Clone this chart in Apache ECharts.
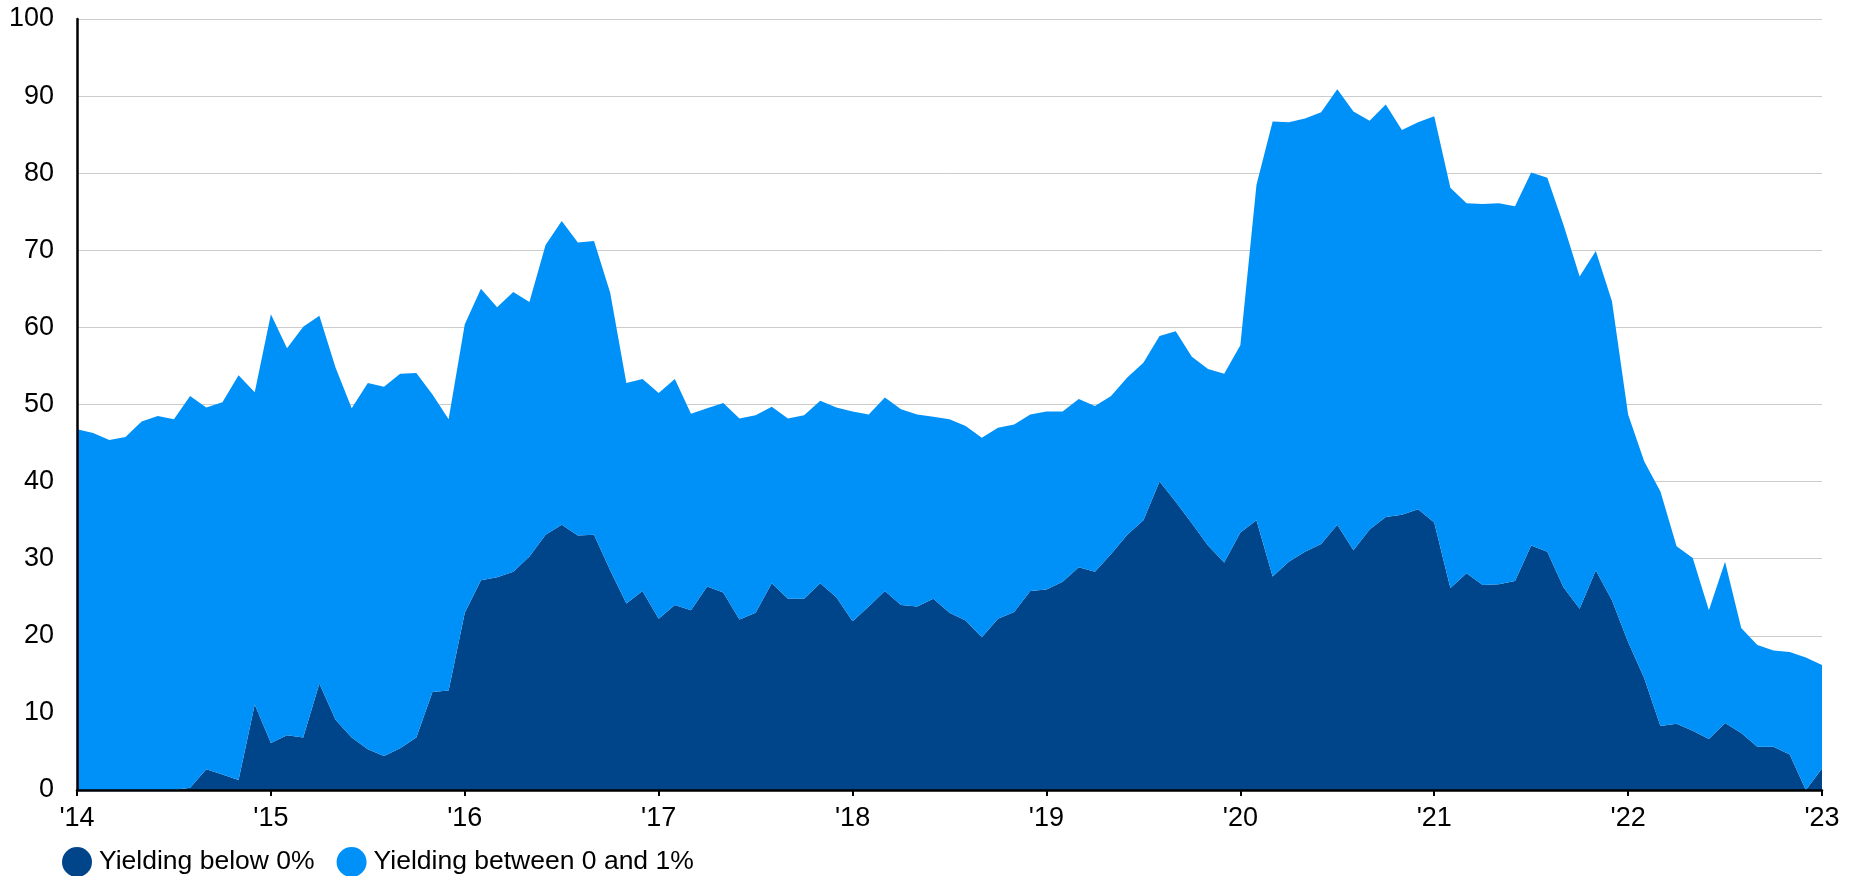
<!DOCTYPE html>
<html lang="en">
<head>
    <meta charset="UTF-8">
    <title>Bonds yielding below 1%</title>
    <style type="text/css">
        html, body { margin: 0; padding: 0; background: #fff; }
        #chart { width: 1852px; height: 876px; }
    </style>
</head>
<body>
<div id="chart"></div>
<script type="text/javascript" src="https://cdn.jsdelivr.net/npm/echarts@6/dist/echarts.min.js"></script>
<script type="text/javascript">
    // monthly, Jan 2014 .. Jan 2023
    var startYear = 2014;
    var yearLabels = ["'14", "'15", "'16", "'17", "'18", "'19", "'20", "'21", "'22", "'23"];

    // share yielding below 0%
    var belowZero = [
        0, 0, 0, 0, 0, 0, 0, 0.3, 2.7, 2.0, 1.3, 11.1,
        6.1, 7.1, 6.8, 13.8, 9.1, 6.8, 5.3, 4.4, 5.4, 6.8, 12.7, 12.9,
        23.0, 27.2, 27.6, 28.3, 30.3, 33.1, 34.4, 33.0, 33.1, 28.5, 24.2, 25.8,
        22.2, 24.0, 23.3, 26.4, 25.6, 22.1, 23.0, 26.8, 24.8, 24.8, 26.8, 25.0,
        21.9, 23.8, 25.8, 24.0, 23.8, 24.8, 23.0, 22.0, 19.8, 22.2, 23.1, 25.8,
        26.0, 27.0, 28.9, 28.3, 30.6, 33.1, 35.0, 40.0, 37.4, 34.6, 31.7, 29.5,
        33.4, 35.0, 27.7, 29.6, 30.9, 31.9, 34.4, 31.1, 33.8, 35.4, 35.7, 36.4,
        34.7, 26.2, 28.1, 26.6, 26.7, 27.1, 31.7, 30.9, 26.3, 23.5, 28.5, 24.6,
        19.2, 14.5, 8.3, 8.6, 7.7, 6.6, 8.7, 7.4, 5.6, 5.6, 4.6, 0,
        2.8
    ];

    // share yielding below 1% (top of the stack)
    var belowOne = [
        46.8, 46.3, 45.4, 45.8, 47.8, 48.5, 48.1, 51.1, 49.6, 50.3, 53.8, 51.6,
        61.7, 57.3, 60.1, 61.5, 54.8, 49.5, 52.8, 52.3, 54.0, 54.1, 51.3, 48.1,
        60.4, 65.0, 62.6, 64.6, 63.3, 70.7, 73.8, 71.0, 71.2, 64.5, 52.8, 53.3,
        51.5, 53.3, 48.8, 49.5, 50.2, 48.2, 48.6, 49.7, 48.2, 48.6, 50.5, 49.6,
        49.1, 48.7, 50.9, 49.4, 48.7, 48.4, 48.1, 47.2, 45.7, 47.0, 47.4, 48.7,
        49.1, 49.1, 50.7, 49.8, 51.1, 53.5, 55.4, 58.9, 59.5, 56.2, 54.6, 54.0,
        57.7, 78.5, 86.7, 86.6, 87.1, 87.9, 90.9, 88.0, 86.8, 88.9, 85.6, 86.6,
        87.4, 78.1, 76.1, 76.0, 76.1, 75.7, 80.1, 79.4, 73.3, 66.6, 69.9, 63.4,
        48.7, 42.6, 38.7, 31.6, 30.1, 23.3, 29.6, 21.0, 18.8, 18.1, 17.9, 17.2,
        16.2
    ];

    var months = [];
    for (var i = 0; i < belowOne.length; i++) {
        var y = startYear + Math.floor(i / 12);
        var m = (i % 12) + 1;
        months.push(y + '-' + (m < 10 ? '0' + m : m));
    }
    var between = belowOne.map(function (v, i) {
        return Math.round((v - belowZero[i]) * 10) / 10;
    });

    var font = "'Liberation Sans', Arial, sans-serif";
    var dark = '#00458a';
    var light = '#0091f8';

    var chart = echarts.init(document.getElementById('chart'));
    chart.setOption({
        animation: false,
        textStyle: { fontFamily: font },
        grid: { left: 77, right: 30, top: 19, bottom: 86 },
        legend: {
            left: 57,
            top: 842,
            icon: 'circle',
            itemWidth: 30,
            itemHeight: 30,
            itemGap: 22,
            textStyle: { fontSize: 26.5, color: '#000', fontFamily: font, padding: [0, 0, 0, 2] },
            data: ['Yielding below 0%', 'Yielding between 0 and 1%']
        },
        xAxis: {
            type: 'category',
            boundaryGap: false,
            data: months,
            z: 5,
            axisLine: { show: true, lineStyle: { color: '#000', width: 2.5 } },
            axisTick: {
                show: true,
                length: 6,
                lineStyle: { color: '#000', width: 2 },
                interval: function (idx) { return idx % 12 === 0; }
            },
            axisLabel: {
                fontSize: 27,
                color: '#000',
                margin: 15,
                interval: function (idx) { return idx % 12 === 0; },
                formatter: function (val, idx) { return yearLabels[Math.floor(idx / 12)]; }
            },
            splitLine: { show: false }
        },
        yAxis: [{
            type: 'value',
            min: 0,
            max: 100,
            interval: 10,
            axisLine: { show: false },
            axisTick: { show: false },
            axisLabel: { fontSize: 27, color: '#000', margin: 23 },
            splitLine: { show: true, lineStyle: { color: '#cccccc', width: 1 } }
        }, {
            // axis line only, drawn above the areas
            type: 'value',
            position: 'left',
            min: 0,
            max: 100,
            z: 5,
            axisLine: { show: true, lineStyle: { color: '#000', width: 2.5 } },
            axisTick: { show: false },
            axisLabel: { show: false },
            splitLine: { show: false }
        }],
        series: [{
            name: 'Yielding below 0%',
            type: 'line',
            stack: 'total',
            data: belowZero,
            symbol: 'none',
            lineStyle: { width: 0 },
            itemStyle: { color: dark },
            areaStyle: { color: dark, opacity: 1 }
        }, {
            name: 'Yielding between 0 and 1%',
            type: 'line',
            stack: 'total',
            data: between,
            symbol: 'none',
            lineStyle: { width: 0 },
            itemStyle: { color: light },
            areaStyle: { color: light, opacity: 1 }
        }]
    });
</script>
</body>
</html>
